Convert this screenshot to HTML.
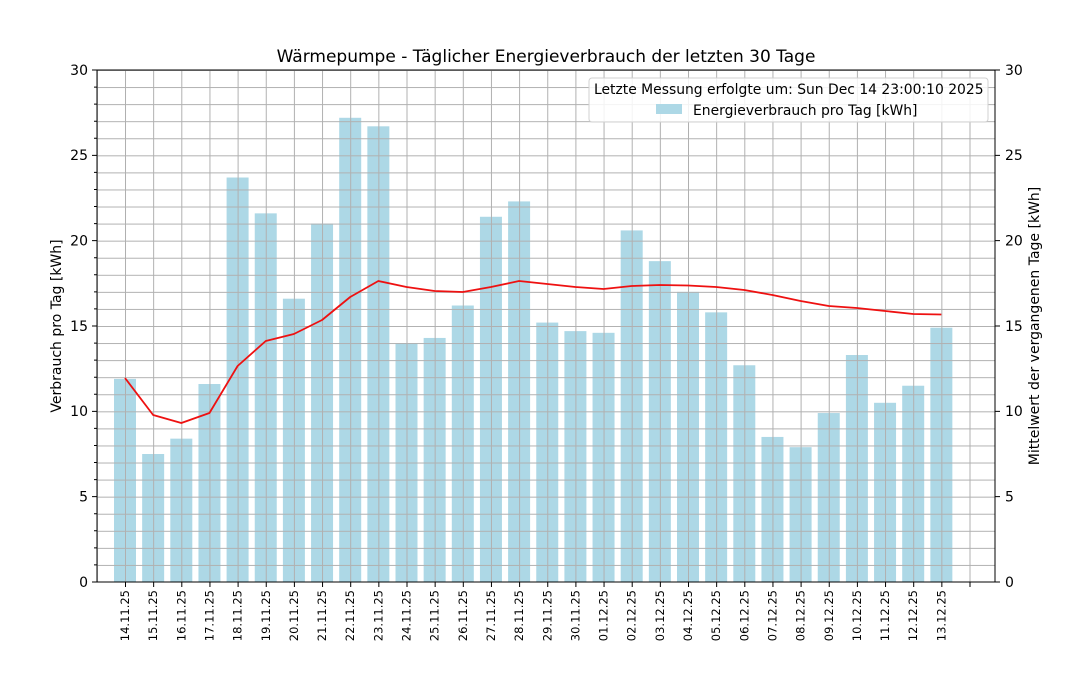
<!DOCTYPE html>
<html><head><meta charset="utf-8"><style>body{margin:0;background:#fff}svg{display:block;font-family:"DejaVu Sans","Liberation Sans",sans-serif}</style></head><body>
<svg width="1091" height="691" viewBox="0 0 1091 691" xmlns="http://www.w3.org/2000/svg">
<defs>
<pattern id="hg" x="97" y="70" width="898" height="17.0667" patternUnits="userSpaceOnUse"><line x1="0" y1="0.5" x2="898" y2="0.5" stroke="#b0b0b0" stroke-width="1"/></pattern>
<pattern id="vg" x="125" y="70" width="28.15" height="512" patternUnits="userSpaceOnUse"><line x1="0.5" y1="0" x2="0.5" y2="512" stroke="#b0b0b0" stroke-width="1"/></pattern>
</defs>
<rect width="1091" height="691" fill="#fff"/>
<text x="546" y="62" font-size="17" text-anchor="middle">Wärmepumpe - Täglicher Energieverbrauch der letzten 30 Tage</text>
<g fill="#add8e6" transform="translate(0,582) scale(1,-17.0667)">
<rect x="114" width="22" y="0" height="11.9"/>
<rect x="142.15" width="22" height="7.5"/>
<rect x="170.3" width="22" height="8.4"/>
<rect x="198.45" width="22" height="11.6"/>
<rect x="226.6" width="22" height="23.7"/>
<rect x="254.75" width="22" height="21.6"/>
<rect x="282.9" width="22" height="16.6"/>
<rect x="311.05" width="22" height="21.0"/>
<rect x="339.2" width="22" height="27.2"/>
<rect x="367.35" width="22" height="26.7"/>
<rect x="395.5" width="22" height="14.0"/>
<rect x="423.65" width="22" height="14.3"/>
<rect x="451.8" width="22" height="16.2"/>
<rect x="479.95" width="22" height="21.4"/>
<rect x="508.1" width="22" height="22.3"/>
<rect x="536.25" width="22" height="15.2"/>
<rect x="564.4" width="22" height="14.7"/>
<rect x="592.55" width="22" height="14.6"/>
<rect x="620.7" width="22" height="20.6"/>
<rect x="648.85" width="22" height="18.8"/>
<rect x="677" width="22" height="17.0"/>
<rect x="705.15" width="22" height="15.8"/>
<rect x="733.3" width="22" height="12.7"/>
<rect x="761.45" width="22" height="8.5"/>
<rect x="789.6" width="22" height="7.9"/>
<rect x="817.75" width="22" height="9.9"/>
<rect x="845.9" width="22" height="13.3"/>
<rect x="874.05" width="22" height="10.5"/>
<rect x="902.2" width="22" height="11.5"/>
<rect x="930.35" width="22" height="14.9"/>
</g>
<rect x="97" y="70" width="898" height="512" fill="url(#hg)"/>
<rect x="97" y="70" width="880" height="512" fill="url(#vg)"/>
<polyline fill="none" stroke="#ee1111" stroke-width="1.8" stroke-linejoin="round" points="125,378 153.15,415 181.3,423 209.45,413 237.6,366 265.75,341 293.9,334 322.05,320 350.2,297 378.35,281 406.5,287 434.65,291 462.8,292 490.95,287 519.1,281 547.25,284 575.4,287 603.55,289 631.7,286 659.85,285 688,285.5 716.15,287 744.3,290 772.45,295 800.6,301 828.75,306 856.9,308 885.05,311 913.2,314 941.35,314.5"/>
<rect x="97" y="70" width="898" height="512" fill="none" stroke="#000" stroke-width="1"/>
<g stroke="#000" stroke-width="1">
<path d="M97 582h-5M97 496.67h-5M97 411.33h-5M97 326h-5M97 240.67h-5M97 155.33h-5M97 70h-5"/>
<path d="M995 582h5M995 496.67h5M995 411.33h5M995 326h5M995 240.67h5M995 155.33h5M995 70h5"/>
<path d="M97 87.07h-3M97 104.13h-3M97 121.2h-3M97 138.27h-3M97 172.4h-3M97 189.47h-3M97 206.53h-3M97 223.6h-3M97 257.73h-3M97 274.8h-3M97 291.87h-3M97 308.93h-3M97 343.07h-3M97 360.13h-3M97 377.2h-3M97 394.27h-3M97 428.4h-3M97 445.47h-3M97 462.53h-3M97 479.6h-3M97 513.73h-3M97 530.8h-3M97 547.87h-3M97 564.93h-3"/>
<path d="M125.5 582v5M153.65 582v5M181.8 582v5M209.95 582v5M238.1 582v5M266.25 582v5M294.4 582v5M322.55 582v5M350.7 582v5M378.85 582v5M407 582v5M435.15 582v5M463.3 582v5M491.45 582v5M519.6 582v5M547.75 582v5M575.9 582v5M604.05 582v5M632.2 582v5M660.35 582v5M688.5 582v5M716.65 582v5M744.8 582v5M772.95 582v5M801.1 582v5M829.25 582v5M857.4 582v5M885.55 582v5M913.7 582v5M941.85 582v5M970 582v5"/>
</g>
<g font-size="14" text-anchor="end">
<text x="88" y="587">0</text><text x="88" y="501.5">5</text><text x="88" y="416">10</text><text x="88" y="331">15</text><text x="88" y="245.5">20</text><text x="88" y="160">25</text><text x="88" y="75">30</text>
</g>
<g font-size="14">
<text x="1005" y="587">0</text><text x="1005" y="501.5">5</text><text x="1005" y="416">10</text><text x="1005" y="331">15</text><text x="1005" y="245.5">20</text><text x="1005" y="160">25</text><text x="1005" y="75">30</text>
</g>
<text transform="translate(61,326) rotate(-90)" font-size="14" text-anchor="middle">Verbrauch pro Tag [kWh]</text>
<text transform="translate(1039,326) rotate(-90)" font-size="14" text-anchor="middle">Mittelwert der vergangenen Tage [kWh]</text>
<g font-size="11.5" text-anchor="end">
<text transform="translate(129,590) rotate(-90)">14.11.25</text>
<text transform="translate(157.15,590) rotate(-90)">15.11.25</text>
<text transform="translate(185.3,590) rotate(-90)">16.11.25</text>
<text transform="translate(213.45,590) rotate(-90)">17.11.25</text>
<text transform="translate(241.6,590) rotate(-90)">18.11.25</text>
<text transform="translate(269.75,590) rotate(-90)">19.11.25</text>
<text transform="translate(297.9,590) rotate(-90)">20.11.25</text>
<text transform="translate(326.05,590) rotate(-90)">21.11.25</text>
<text transform="translate(354.2,590) rotate(-90)">22.11.25</text>
<text transform="translate(382.35,590) rotate(-90)">23.11.25</text>
<text transform="translate(410.5,590) rotate(-90)">24.11.25</text>
<text transform="translate(438.65,590) rotate(-90)">25.11.25</text>
<text transform="translate(466.8,590) rotate(-90)">26.11.25</text>
<text transform="translate(494.95,590) rotate(-90)">27.11.25</text>
<text transform="translate(523.1,590) rotate(-90)">28.11.25</text>
<text transform="translate(551.25,590) rotate(-90)">29.11.25</text>
<text transform="translate(579.4,590) rotate(-90)">30.11.25</text>
<text transform="translate(607.55,590) rotate(-90)">01.12.25</text>
<text transform="translate(635.7,590) rotate(-90)">02.12.25</text>
<text transform="translate(663.85,590) rotate(-90)">03.12.25</text>
<text transform="translate(692,590) rotate(-90)">04.12.25</text>
<text transform="translate(720.15,590) rotate(-90)">05.12.25</text>
<text transform="translate(748.3,590) rotate(-90)">06.12.25</text>
<text transform="translate(776.45,590) rotate(-90)">07.12.25</text>
<text transform="translate(804.6,590) rotate(-90)">08.12.25</text>
<text transform="translate(832.75,590) rotate(-90)">09.12.25</text>
<text transform="translate(860.9,590) rotate(-90)">10.12.25</text>
<text transform="translate(889.05,590) rotate(-90)">11.12.25</text>
<text transform="translate(917.2,590) rotate(-90)">12.12.25</text>
<text transform="translate(945.35,590) rotate(-90)">13.12.25</text>
</g>
<rect x="589" y="78" width="399" height="44" rx="3" fill="#fff" fill-opacity="0.85" stroke="#d0d0d0"/>
<text x="594" y="94" font-size="13.9">Letzte Messung erfolgte um: Sun Dec 14 23:00:10 2025</text>
<rect x="656" y="104" width="26" height="10" fill="#add8e6"/>
<text x="693" y="115" font-size="13.9">Energieverbrauch pro Tag [kWh]</text>
</svg>
</body></html>
